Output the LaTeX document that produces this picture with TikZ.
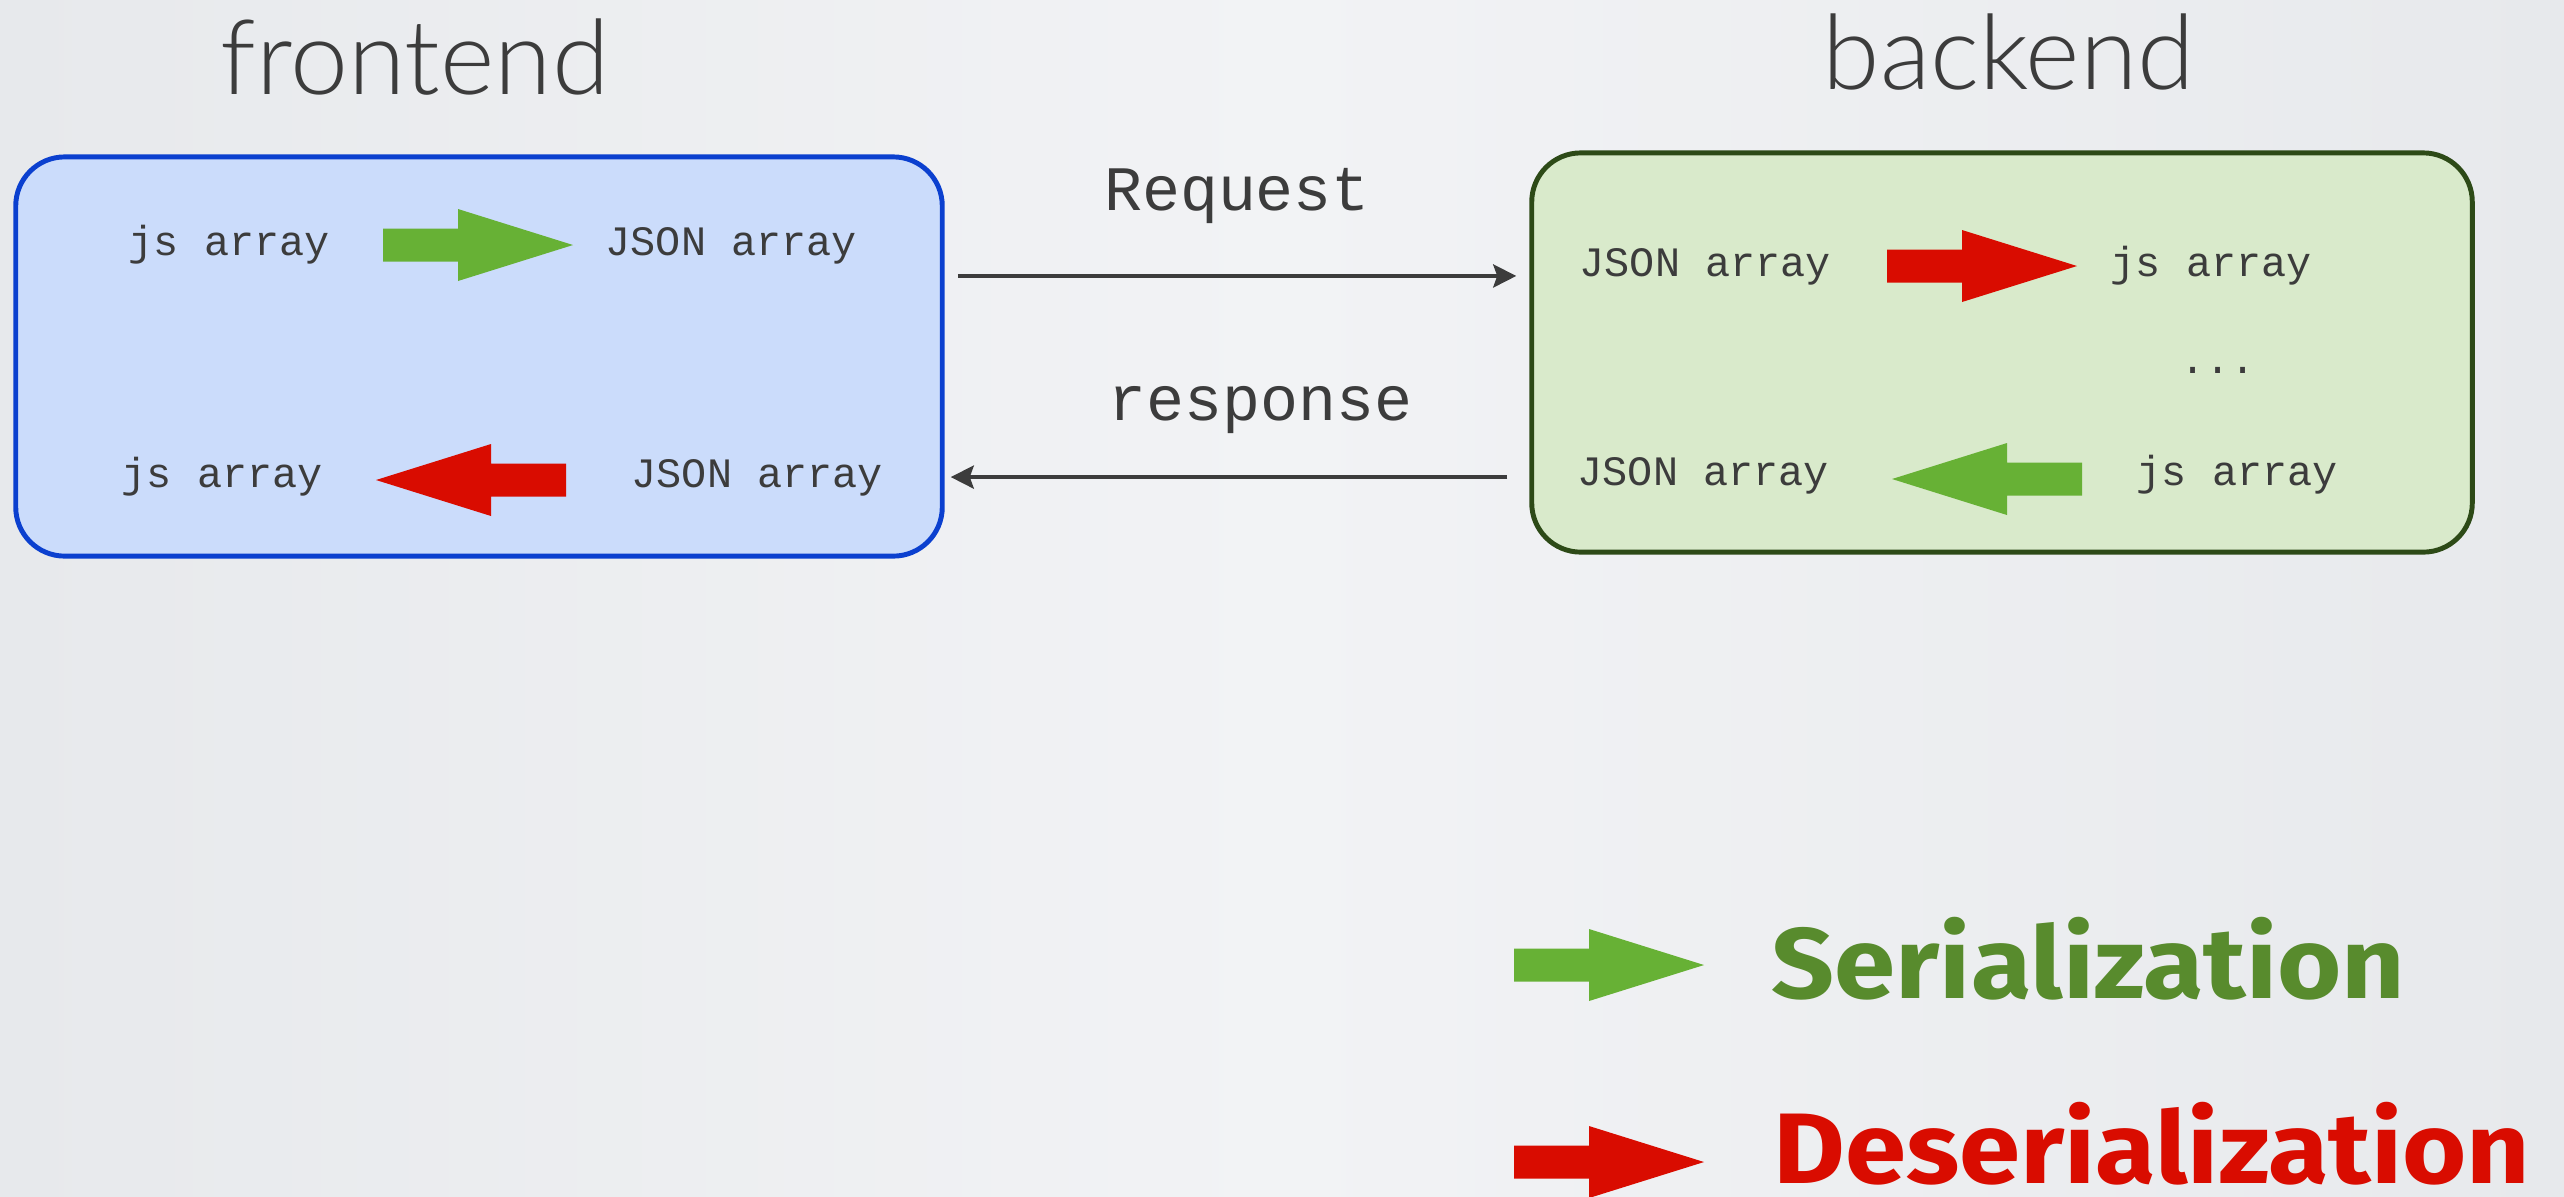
\documentclass[tikz,border=0pt]{standalone}
\usepackage{fontspec}
\setmonofont{Liberation Mono}
\newfontfamily\titlefont{Lato Light}
\newfontfamily\legendfont{Fira Sans}
\usetikzlibrary{positioning,calc,arrows.meta}

\definecolor{bgA}{HTML}{E7E9EC}
\definecolor{bgB}{HTML}{F2F3F5}
\definecolor{txt}{HTML}{3C3C3C}
\definecolor{frontfill}{HTML}{CBDCFB}
\definecolor{frontline}{HTML}{0B40CF}
\definecolor{backfill}{HTML}{D9EACB}
\definecolor{backline}{HTML}{2D4A17}
\definecolor{sergreen}{HTML}{67B135}
\definecolor{serdark}{HTML}{588B2D}
\definecolor{desred}{HTML}{D90C00}

% fat arrow: colour, tail point, direction (1 or -1)
\newcommand{\fatarrow}[3]{%
  \fill[#1] (#2) ++(0,16.5) -- ++({(#3)*75},0) -- ++(0,19.5) -- ++({(#3)*115},-36)
    -- ++({(-1)*(#3)*115},-36) -- ++(0,19.5) -- ++({(-1)*(#3)*75},0) -- cycle;}

\begin{document}
\begin{tikzpicture}[x=0.01cm, y=-0.01cm]
    \tikzset{box/.style={rounded corners=0.49cm, line width=1.4pt, minimum width=#1, minimum height=3.99cm},
      code/.style={font=\ttfamily\fontsize{11.9pt}{14pt}\selectfont, text=txt, inner sep=0pt, anchor=base west},
      msg/.style={font=\ttfamily\fontsize{18pt}{20pt}\selectfont, text=txt, inner sep=0pt, anchor=base},
      title/.style={font=\titlefont\fontsize{29.6pt}{32pt}\selectfont, text=txt, inner sep=0pt, anchor=base west},
      legend/.style={font=\legendfont\bfseries\fontsize{28.5pt}{30pt}\selectfont, inner sep=0pt, anchor=base west, xscale=1.1},
      conn/.style={-{Stealth[length=0.23cm, width=0.23cm, inset=0.04cm]}, draw=txt, line width=1.14pt}
    }

    \shade[left color=bgA, right color=bgA, middle color=bgB] (0,0) rectangle (2564,1196);
    \useasboundingbox (0,0) rectangle (2564,1196);

    \node (front) [box=9.26cm, draw=frontline, fill=frontfill] at (479,356.5) {};
    \node (back) [box=9.40cm, draw=backline, fill=backfill] at (2002,352.5) {};

    \node (ftitle) [title] at (220,94) {frontend};
    \node (btitle) [title] at (1822,89) {backend};

    % frontend
    \node (f-js1) [code] at (128,255) {js array};
    \node (f-json1) [code] at (605,255) {JSON array};
    \node (f-js2) [code] at (121,487) {js array};
    \node (f-json2) [code] at (631,487) {JSON array};
    \fatarrow{sergreen}{383,245}{1}
    \fatarrow{desred}{566,480}{-1}

    % backend
    \node (b-json1) [code] at (1579,276) {JSON array};
    \node (b-js1) [code] at (2110,276) {js array};
    \node (b-dots) [code] at (2180,373) {...};
    \node (b-json2) [code] at (1577,485) {JSON array};
    \node (b-js2) [code] at (2136,485) {js array};
    \fatarrow{desred}{1887,266}{1}
    \fatarrow{sergreen}{2082,479}{-1}

    \draw[conn, shorten <=0.13cm, shorten >=0.13cm] ([yshift=0.805cm]front.east) -- ([yshift=0.805cm]front.east -| back.west)
      node[msg, pos=0.5, yshift=0.65cm] {Request};
    \draw[conn, shorten <=0.22cm, shorten >=0.06cm] ([yshift=-1.205cm]front.east -| back.west) -- ([yshift=-1.205cm]front.east)
      node[msg, pos=0.46, yshift=0.57cm] {response};

    % legend
    \fatarrow{sergreen}{1514,965}{1}
    \fatarrow{desred}{1514,1162}{1}
    \node (ser) [legend, text=serdark] at (1771,998) {Serialization};
    \node (deser) [legend, text=desred] at (1773,1183) {Deserialization};
\end{tikzpicture}
\end{document}
